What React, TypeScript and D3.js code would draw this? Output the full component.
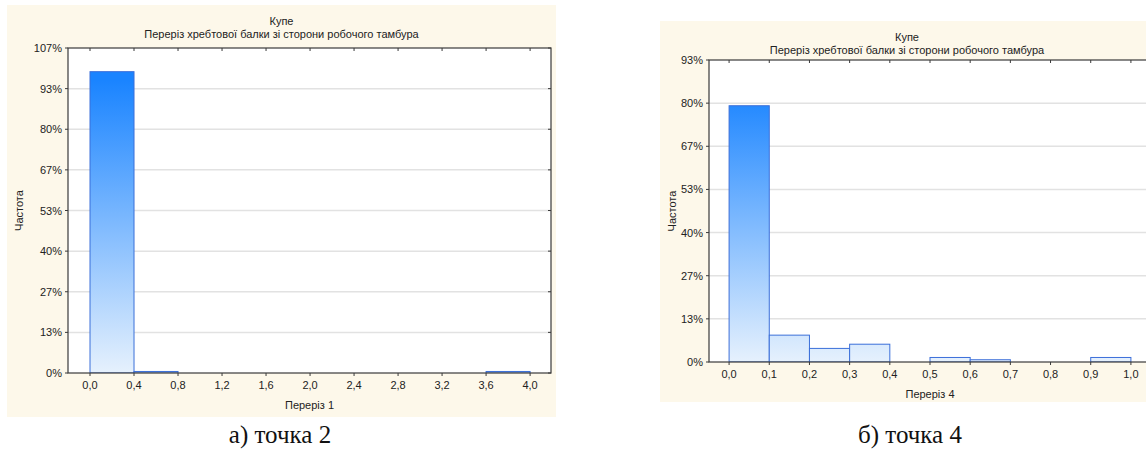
import React from "react";
import * as d3 from "d3";

// ---- Data ----
const titleLine1 = "Купе";
const titleLine2 = "Переріз хребтової балки зі сторони робочого тамбура";
const yAxisLabel = "Частота";

// Chart a) — Переріз 1
const binsA = [0.0, 0.4, 0.8, 1.2, 1.6, 2.0, 2.4, 2.8, 3.2, 3.6];
const valuesA = [98.9, 0.5, 0, 0, 0, 0, 0, 0, 0, 0.5];
const binWidthA = 0.4;
const xTicksA = [0.0, 0.4, 0.8, 1.2, 1.6, 2.0, 2.4, 2.8, 3.2, 3.6, 4.0];
const yTicksA = [0, 13.333, 26.667, 40, 53.333, 66.667, 80, 93.333, 106.667];
const xLabelA = "Переріз 1";
const captionA = "а) точка 2";

// Chart б) — Переріз 4
const binsB = [0.0, 0.1, 0.2, 0.3, 0.4, 0.5, 0.6, 0.7, 0.8, 0.9];
const valuesB = [79.2, 8.3, 4.2, 5.5, 0, 1.4, 0.7, 0, 0, 1.4];
const binWidthB = 0.1;
const xTicksB = [0.0, 0.1, 0.2, 0.3, 0.4, 0.5, 0.6, 0.7, 0.8, 0.9, 1.0];
const yTicksB = [0, 13.333, 26.667, 40, 53.333, 66.667, 80, 93.333];
const xLabelB = "Переріз 4";
const captionB = "б) точка 4";

const FONT = "'Liberation Sans', Arial, sans-serif";

type HistProps = {
  id: string;
  panel: { x: number; y: number; w: number; h: number };
  plot: { x0: number; x1: number; y0: number; y1: number };
  xDomain: [number, number];
  yMax: number;
  bins: number[];
  values: number[];
  binWidth: number;
  xTicks: number[];
  yTicks: number[];
  xDecimals: number;
  xLabel: string;
};

function Histogram(p: HistProps) {
  const x = d3.scaleLinear().domain(p.xDomain).range([p.plot.x0, p.plot.x1]);
  const y = d3.scaleLinear().domain([0, p.yMax]).range([p.plot.y1, p.plot.y0]);
  const fmtX = (v: number) => v.toFixed(p.xDecimals).replace(".", ",");
  const fmtY = (v: number) => `${Math.round(v)}%`;
  const cx = p.panel.x + p.panel.w / 2;
  const pcx = (p.plot.x0 + p.plot.x1) / 2;
  const pcy = (p.plot.y0 + p.plot.y1) / 2;
  const axisColor = "#3a3a3a";
  return (
    <g>
      <defs>
        <linearGradient
          id={p.id + "grad"}
          gradientUnits="userSpaceOnUse"
          x1="0"
          y1={p.plot.y1}
          x2="0"
          y2={y(p.yMax * 0.9)}
        >
          <stop offset="0" stopColor="#e6f1fd" />
          <stop offset="1" stopColor="#1a84ff" />
        </linearGradient>
        <clipPath id={p.id + "clip"}>
          <rect x={p.plot.x0} y={p.plot.y0} width={p.plot.x1 - p.plot.x0} height={p.plot.y1 - p.plot.y0} />
        </clipPath>
      </defs>
      <rect x={p.panel.x} y={p.panel.y} width={p.panel.w} height={p.panel.h} fill="#fdf8ea" />
      <text x={cx} y={p.panel.y + 20} textAnchor="middle" fontFamily={FONT} fontSize={11} fill="#222">
        {titleLine1}
      </text>
      <text x={cx} y={p.panel.y + 33} textAnchor="middle" fontFamily={FONT} fontSize={11} fill="#222">
        {titleLine2}
      </text>
      <rect
        x={p.plot.x0}
        y={p.plot.y0}
        width={p.plot.x1 - p.plot.x0}
        height={p.plot.y1 - p.plot.y0}
        fill="#ffffff"
      />
      {p.yTicks.slice(1, -1).map((t, i) => (
        <line key={"g" + i} x1={p.plot.x0} x2={p.plot.x1} y1={y(t)} y2={y(t)} stroke="#e2e2e2" strokeWidth={1.5} />
      ))}
      <g clipPath={`url(#${p.id}clip)`}>
        {p.bins.map((b, i) =>
          p.values[i] > 0 ? (
            <rect
              key={"b" + i}
              x={x(b)}
              y={y(p.values[i])}
              width={x(b + p.binWidth) - x(b)}
              height={p.plot.y1 - y(p.values[i])}
              fill={`url(#${p.id}grad)`}
              stroke="#3b6fd9"
              strokeWidth={1}
            />
          ) : null
        )}
      </g>
      <rect
        x={p.plot.x0}
        y={p.plot.y0}
        width={p.plot.x1 - p.plot.x0}
        height={p.plot.y1 - p.plot.y0}
        fill="none"
        stroke={axisColor}
        strokeWidth={1.2}
      />
      {p.xTicks.map((t, i) => (
        <g key={"xt" + i}>
          <line x1={x(t)} x2={x(t)} y1={p.plot.y1} y2={p.plot.y1 + 3} stroke={axisColor} />
          <line x1={x(t)} x2={x(t)} y1={p.plot.y0} y2={p.plot.y0 + 3} stroke={axisColor} />
          <text x={x(t)} y={p.plot.y1 + 16} textAnchor="middle" fontFamily={FONT} fontSize={11} fill="#222">
            {fmtX(t)}
          </text>
        </g>
      ))}
      {p.yTicks.map((t, i) => (
        <g key={"yt" + i}>
          <line x1={p.plot.x0 - 3} x2={p.plot.x0} y1={y(t)} y2={y(t)} stroke={axisColor} />
          <line x1={p.plot.x1 - 3} x2={p.plot.x1} y1={y(t)} y2={y(t)} stroke={axisColor} />
          <text x={p.plot.x0 - 6} y={y(t) + 4} textAnchor="end" fontFamily={FONT} fontSize={11} fill="#222">
            {fmtY(t)}
          </text>
        </g>
      ))}
      <text
        x={pcx}
        y={p.plot.y1 + 36}
        textAnchor="middle"
        fontFamily={FONT}
        fontSize={11}
        fill="#222"
      >
        {p.xLabel}
      </text>
      <text
        transform={`translate(${p.panel.x + 16},${pcy}) rotate(-90)`}
        textAnchor="middle"
        fontFamily={FONT}
        fontSize={11}
        fill="#222"
      >
        {yAxisLabel}
      </text>
    </g>
  );
}

export default function App() {
  return (
    <svg
      width={1146}
      height={450}
      style={{ position: "absolute", left: 0, top: 0, display: "block" }}
    >
      <rect x={0} y={0} width={1146} height={450} fill="#ffffff" />
      <Histogram
        id="a"
        panel={{ x: 7, y: 5, w: 549, h: 412 }}
        plot={{ x0: 68, x1: 551, y0: 48, y1: 373 }}
        xDomain={[-0.2, 4.19]}
        yMax={106.667}
        bins={binsA}
        values={valuesA}
        binWidth={binWidthA}
        xTicks={xTicksA}
        yTicks={yTicksA}
        xDecimals={1}
        xLabel={xLabelA}
      />
      <Histogram
        id="b"
        panel={{ x: 660, y: 21, w: 494, h: 381 }}
        plot={{ x0: 709, x1: 1151, y0: 60, y1: 362 }}
        xDomain={[-0.05, 1.05]}
        yMax={93.333}
        bins={binsB}
        values={valuesB}
        binWidth={binWidthB}
        xTicks={xTicksB}
        yTicks={yTicksB}
        xDecimals={1}
        xLabel={xLabelB}
      />
      <text x={280} y={443} textAnchor="middle" fontFamily="'Liberation Serif', 'Times New Roman', serif" fontSize={25} fill="#111">
        {captionA}
      </text>
      <text x={910} y={443} textAnchor="middle" fontFamily="'Liberation Serif', 'Times New Roman', serif" fontSize={25} fill="#111">
        {captionB}
      </text>
    </svg>
  );
}
